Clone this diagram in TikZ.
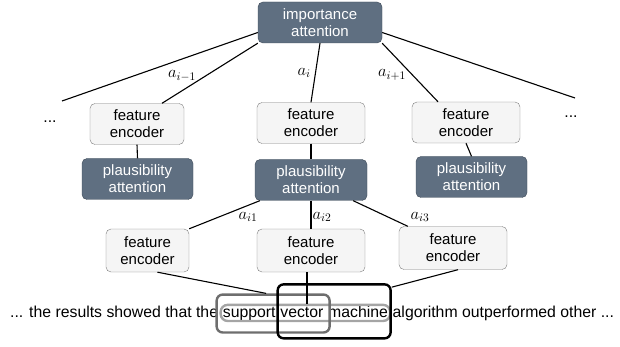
\RequirePackage{fix-cm}
\documentclass[tikz,border=0pt]{standalone}
\usepackage{fontspec}
\setmainfont{Liberation Sans}
\usetikzlibrary{positioning,fit}

\definecolor{slate}{RGB}{95,111,129}
\definecolor{slateline}{RGB}{62,74,88}
\definecolor{paper}{RGB}{245,245,245}
\definecolor{paperline}{RGB}{125,125,125}
\definecolor{pillgray}{RGB}{165,165,165}
\definecolor{spangray}{RGB}{110,110,110}

\tikzset{
  dark/.style={draw=slateline, fill=slate, text=white, rounded corners=5pt,
               align=center, inner sep=0pt, minimum height=41pt,
               font=\fontsize{15}{17}\selectfont},
  light/.style={draw=paperline, fill=paper, rounded corners=5pt,
                align=center, inner sep=0pt, minimum height=41pt,
                font=\fontsize{15}{17}\selectfont},
  wire/.style={line width=1.1pt},
  weight/.style={font=\fontsize{16.5}{18}\selectfont},
  word/.style={inner sep=0pt, font=\fontsize{15.8}{18}\selectfont},
  pillbox/.style={draw=pillgray, line width=2.4pt, rounded corners=7pt,
                  inner xsep=2pt, inner ysep=0.5pt},
  spanbox/.style={draw=spangray, line width=2.4pt, rounded corners=6pt,
                  inner xsep=6pt, inner ysep=12pt},
  bigspan/.style={draw=black, line width=2.4pt, rounded corners=6pt,
                  inner xsep=2.5pt, inner ysep=21pt}
}

\begin{document}
\begin{tikzpicture}[x=1pt, y=-1pt]
  \useasboundingbox (0,0) rectangle (620,347);

  % top attention over the candidate spans
  \node[dark, minimum width=124pt] (imp) at (320,22.5) {importance\\attention};
  \coordinate (farl) at (62,101);
  \coordinate (farr) at (575,98);

  % one branch per candidate span
  \node[light, minimum width=94pt] (enc1) at (137,124) {feature\\encoder};
  \node[light, minimum width=108pt] (enc2) at (311,123) {feature\\encoder};
  \node[light, minimum width=108pt] (enc3) at (466,122.5) {feature\\encoder};
  \node[dark, minimum width=111pt] (pla1) at (137.5,179) {plausibility\\attention};
  \node[dark, minimum width=112pt] (pla2) at (311,180) {plausibility\\attention};
  \node[dark, minimum width=111pt] (pla3) at (471.5,177) {plausibility\\attention};
  \node[word, anchor=base] (dotsl) at (50,123) {...};
  \node[word, anchor=base] (dotsr) at (571,118) {...};

  % encoders of the overlapping sub-spans
  \node[light, minimum width=83pt, minimum height=43pt] (low1) at (147.5,250.5) {feature\\encoder};
  \node[light, minimum width=108pt, minimum height=43pt] (low2) at (311,250.5) {feature\\encoder};
  \node[light, minimum width=108pt, minimum height=43pt] (low3) at (453,248) {feature\\encoder};

  % the sentence
  \node[word, anchor=base west] (pre) at (10,317) {... the results showed that the};
  \node[word, base right=4.4pt of pre] (w1) {support};
  \node[word, base right=4.4pt of w1] (w2) {vector};
  \node[word, base right=4.4pt of w2] (w3) {machine};
  \node[word, base right=4.4pt of w3] (post) {algorithm outperformed other ...};
  \node[pillbox, fit=(w1)(w3)] (pill) {};
  \node[spanbox, fit=(w1)(w2)] (sv) {};
  \node[bigspan, fit=(w2)(w3)] (vm) {};

  % connectors
  \draw[wire] (farl) -- ([yshift=-10pt]imp.west);
  \draw[wire] ([xshift=25pt]enc1.north) -- (imp.south west);
  \draw[wire] (imp.south) -- (enc2.north);
  \draw[wire] (imp.south east) -- ([xshift=-28pt]enc3.north);
  \draw[wire] ([yshift=-10pt]imp.east) -- (farr);
  \draw[wire] (enc1.south) -- (pla1.north);
  \draw[wire] (enc2.south) -- (pla2.north);
  \draw[wire] (enc3.south) -- (pla3.north);
  \draw[wire] ([xshift=5pt]pla2.south west) -- (low1.north east);
  \draw[wire] (pla2.south) -- (low2.north);
  \draw[wire] ([xshift=-14pt]pla2.south east) -- ([xshift=9pt]low3.north west);
  \coordinate (low2foot) at ([xshift=-4pt]low2.south);
  \draw[wire] ([xshift=10pt]low1.south) -- ([xshift=-7pt]sv.north);
  \draw[wire] (low2foot) -- (low2foot |- pill.north);
  \draw[wire] ([xshift=5pt]low3.south) -- ([yshift=-4pt]vm.north east);

  % attention weights
  \node[weight] (wim) at (182,76) {$a_{i-1}$};
  \node[weight] (wi) at (304,73) {$a_i$};
  \node[weight] (wip) at (392,75) {$a_{i+1}$};
  \node[weight] (wi1) at (248,217) {$a_{i1}$};
  \node[weight] (wi2) at (322,217) {$a_{i2}$};
  \node[weight] (wi3) at (420,217) {$a_{i3}$};
\end{tikzpicture}
\end{document}
